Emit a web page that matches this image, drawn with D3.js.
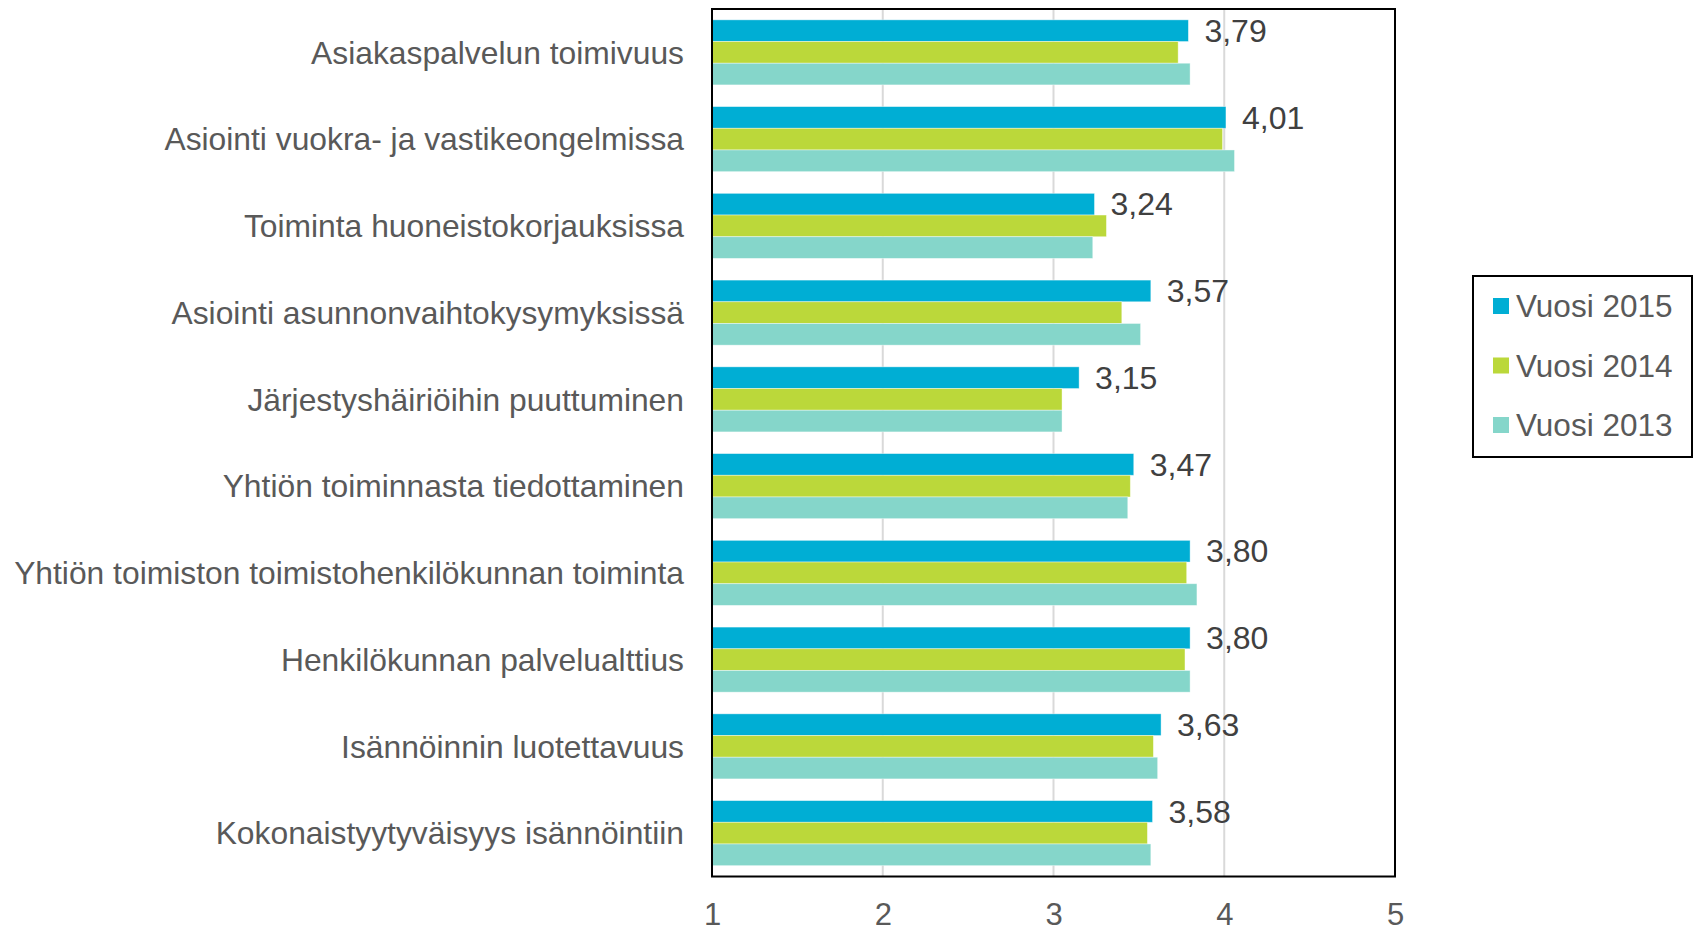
<!DOCTYPE html>
<html>
<head>
<meta charset="utf-8">
<script src="https://cdn.jsdelivr.net/npm/d3@7"></script>
<style>
  body { margin: 0; background: #fff; }
  text { font-family: "Liberation Sans", Arial, sans-serif; }
</style>
</head>
<body>
<div id="chart"></div>
<script>
// Data
var categories = [
  "Asiakaspalvelun toimivuus",
  "Asiointi vuokra- ja vastikeongelmissa",
  "Toiminta huoneistokorjauksissa",
  "Asiointi asunnonvaihtokysymyksissä",
  "Järjestyshäiriöihin puuttuminen",
  "Yhtiön toiminnasta tiedottaminen",
  "Yhtiön toimiston toimistohenkilökunnan toiminta",
  "Henkilökunnan palvelualttius",
  "Isännöinnin luotettavuus",
  "Kokonaistyytyväisyys isännöintiin"
];
var seriesNames = ["Vuosi 2015", "Vuosi 2014", "Vuosi 2013"];
var values2015 = [3.79, 4.01, 3.24, 3.57, 3.15, 3.47, 3.80, 3.80, 3.63, 3.58];
var values2014 = [3.73, 3.99, 3.31, 3.40, 3.05, 3.45, 3.78, 3.77, 3.585, 3.55];
var values2013 = [3.80, 4.06, 3.23, 3.51, 3.05, 3.435, 3.84, 3.80, 3.61, 3.57];
var xTicks = [1, 2, 3, 4, 5];
var colors = ["#00AED4", "#BBD83A", "#85D6CA"];

var svgWidth = 1696;
var svgHeight = 927;
var margin = { top: 9, right: 301, bottom: 50, left: 712 };
var chartWidth = svgWidth - margin.left - margin.right;
var chartHeight = 876.5 - margin.top;

var svg = d3.select("#chart")
  .append("svg")
  .attr("width", svgWidth)
  .attr("height", svgHeight);

var chartGroup = svg.append("g")
  .attr("transform", `translate(${margin.left}, ${margin.top})`);

// Scales
var xScale = d3.scaleLinear()
  .domain([1, 5])
  .range([0, chartWidth]);

var yScale = d3.scaleBand()
  .domain(categories)
  .range([0, chartHeight])
  .paddingInner(0.25)
  .paddingOuter(0.125);

var ySub = d3.scaleBand()
  .domain(seriesNames)
  .range([0, yScale.bandwidth()]);

var color = d3.scaleOrdinal().domain(seriesNames).range(colors);

// Gridlines
chartGroup.append("g")
  .selectAll("line")
  .data(xTicks)
  .enter()
  .append("line")
  .attr("x1", d => xScale(d))
  .attr("x2", d => xScale(d))
  .attr("y1", 0)
  .attr("y2", chartHeight)
  .attr("stroke", "#D9D9D9")
  .attr("stroke-width", 2);

// Build rows
var rows = categories.map(function(c, i) {
  return { cat: c, vals: [values2015[i], values2014[i], values2013[i]] };
});

var groups = chartGroup.selectAll(".cat")
  .data(rows)
  .enter()
  .append("g")
  .attr("class", "cat")
  .attr("transform", d => `translate(0, ${yScale(d.cat)})`);

groups.selectAll("rect")
  .data(d => d.vals.map((v, j) => ({ name: seriesNames[j], value: v })))
  .enter()
  .append("rect")
  .attr("x", xScale(1))
  .attr("y", d => ySub(d.name))
  .attr("width", d => xScale(d.value) - xScale(1))
  .attr("height", ySub.bandwidth())
  .attr("fill", d => color(d.name))
  .attr("stroke", "#ffffff")
  .attr("stroke-opacity", 0.5)
  .attr("stroke-width", 0.8);

// Value labels on 2015 bars
groups.append("text")
  .attr("x", d => xScale(d.vals[0]) + 16)
  .attr("y", ySub(seriesNames[0]) + ySub.bandwidth() / 2)
  .attr("dy", "0.35em")
  .attr("font-size", "32px")
  .attr("fill", "#404040")
  .text(d => d.vals[0].toFixed(2).replace(".", ","));

// Category labels
chartGroup.append("g")
  .selectAll("text")
  .data(categories)
  .enter()
  .append("text")
  .attr("x", -28)
  .attr("y", d => yScale(d) + yScale.bandwidth() / 2)
  .attr("dy", "0.35em")
  .attr("text-anchor", "end")
  .attr("font-size", "31.8px")
  .attr("fill", "#595959")
  .text(d => d);

// Plot frame
chartGroup.append("rect")
  .attr("x", 0)
  .attr("y", 0)
  .attr("width", chartWidth)
  .attr("height", chartHeight)
  .attr("fill", "none")
  .attr("stroke", "#000")
  .attr("stroke-width", 2);

// Bottom axis labels
var bottomAxis = d3.axisBottom(xScale)
  .tickValues(xTicks)
  .tickSize(0)
  .tickPadding(26)
  .tickFormat(d3.format("d"));

var axisG = chartGroup.append("g")
  .attr("transform", `translate(0, ${chartHeight})`)
  .call(bottomAxis);
axisG.select(".domain").remove();
axisG.selectAll("text")
  .attr("font-size", "31px")
  .attr("font-family", "Liberation Sans, Arial, sans-serif")
  .attr("fill", "#595959");

// Legend
var legend = svg.append("g")
  .attr("transform", "translate(1473, 276)");

legend.append("rect")
  .attr("width", 219)
  .attr("height", 181)
  .attr("fill", "#fff")
  .attr("stroke", "#000")
  .attr("stroke-width", 2);

var items = legend.selectAll(".item")
  .data(seriesNames)
  .enter()
  .append("g")
  .attr("class", "item")
  .attr("transform", (d, i) => `translate(20, ${30 + i * 59.5})`);

items.append("rect")
  .attr("x", 0)
  .attr("y", -8)
  .attr("width", 16)
  .attr("height", 16)
  .attr("fill", d => color(d));

items.append("text")
  .attr("x", 23)
  .attr("y", 0)
  .attr("dy", "0.35em")
  .attr("font-size", "31.5px")
  .attr("fill", "#595959")
  .text(d => d);
</script>
</body>
</html>
